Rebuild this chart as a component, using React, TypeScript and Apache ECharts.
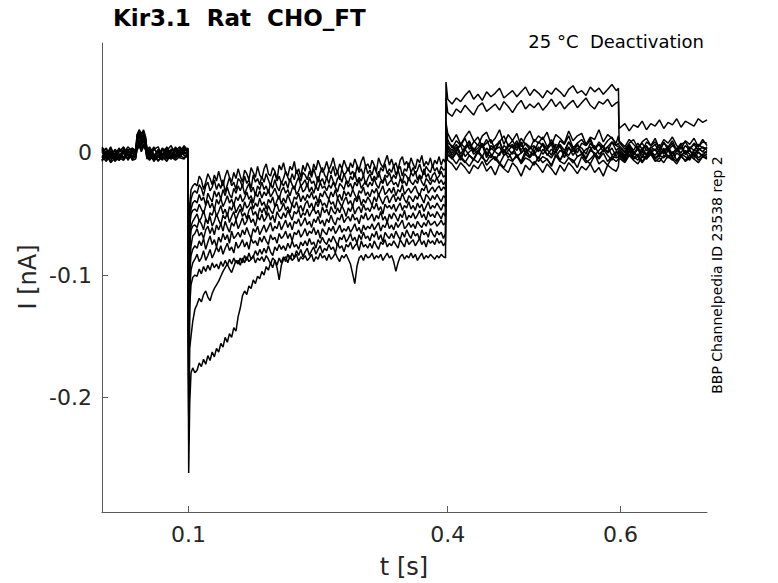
import React, { useEffect, useRef } from "react";
import * as echarts from "echarts";

// Sample times (s) for the four protocol segments
const T1 = [0, 0.005, 0.01, 0.015, 0.02, 0.025, 0.03, 0.035, 0.039, 0.0405, 0.043, 0.0455, 0.048, 0.0505, 0.052,
  0.055, 0.06, 0.065, 0.07, 0.075, 0.08, 0.085, 0.09, 0.095, 0.0995];
const T2 = [0.1003, 0.1015, 0.103, 0.105, 0.1075,
  0.11, 0.1125, 0.115, 0.1175, 0.12, 0.1225, 0.125, 0.1275, 0.13, 0.1325,
  0.135, 0.1375, 0.14, 0.1425, 0.145, 0.1475, 0.15, 0.1525, 0.155, 0.1575,
  0.16, 0.1625, 0.165, 0.1675, 0.17, 0.1725, 0.175, 0.1775, 0.18, 0.1825,
  0.185, 0.1875, 0.19, 0.1925, 0.195, 0.1975, 0.2, 0.2025, 0.205, 0.2075,
  0.21, 0.2125, 0.215, 0.2175, 0.22, 0.2225, 0.225, 0.2275, 0.23, 0.2325,
  0.235, 0.2375, 0.24, 0.2425, 0.245, 0.2475, 0.25, 0.2525, 0.255, 0.2575,
  0.26, 0.2625, 0.265, 0.2675, 0.27, 0.2725, 0.275, 0.2775, 0.28, 0.2825,
  0.285, 0.2875, 0.29, 0.2925, 0.295, 0.2975, 0.3, 0.3025, 0.305, 0.3075,
  0.31, 0.3125, 0.315, 0.3175, 0.32, 0.3225, 0.325, 0.3275, 0.33, 0.3325,
  0.335, 0.3375, 0.34, 0.3425, 0.345, 0.3475, 0.35, 0.3525, 0.355, 0.3575,
  0.36, 0.3625, 0.365, 0.3675, 0.37, 0.3725, 0.375, 0.3775, 0.38, 0.3825,
  0.385, 0.3875, 0.39, 0.3925, 0.395, 0.3975];
const T3 = [0.398, 0.4,
  0.405, 0.41, 0.415, 0.42, 0.425, 0.43, 0.435, 0.44, 0.445, 0.45,
  0.455, 0.46, 0.465, 0.47, 0.475, 0.48, 0.485, 0.49, 0.495, 0.5,
  0.505, 0.51, 0.515, 0.52, 0.525, 0.53, 0.535, 0.54, 0.545, 0.55,
  0.555, 0.56, 0.565, 0.57, 0.575, 0.58, 0.585, 0.59, 0.595,
  0.5975];
const T4 = [0.5983, 0.605, 0.61, 0.615, 0.62, 0.625, 0.63, 0.635, 0.64, 0.645, 0.65,
  0.655, 0.66, 0.665, 0.67, 0.675, 0.68, 0.685, 0.69, 0.695, 0.7];
const SEGMENT_TIMES = [T1, T2, T3, T4];

// Current sweeps in pA, one array per sweep, split by segment
const sweepA = [
  [-6, 2, -5, -1, 4, -4, 1, -3, 2, 14, 19, 16, 18, 12, 1, -5, 3, 5, -4, 2, 6, -2, 4, -1, 1],
  [-140, -42, -30, -27, -25,
    -27, -19, -22, -30, -24, -17, -21, -26, -18, -23,
    -15, -22, -27, -19, -14, -20, -24, -16, -21, -13,
    -19, -24, -14, -17, -22, -12, -16, -20, -11, -18,
    -21, -13, -9, -17, -19, -12, -15, -22, -10, -14,
    -8, -16, -19, -11, -14, -7, -17, -13, -20, -10,
    -15, -8, -12, -18, -9, -14, -6, -11, -16, -13,
    -7, -14, -10, -4, -12, -16, -9, -13, -6, -11,
    -15, -8, -12, -5, -10, -14, -7, -3, -11, -9,
    -13, -6, -10, -15, -4, -9, -12, -7, -2, -10,
    -5, -11, -8, -14, -6, -3, -10, -7, -12, -4,
    -9, -13, -5, -8, -2, -11, -7, -10, -4, -12,
    -6, -9, -3, -10, -5, -8],
  [25, 16,
    9, 15, 7, 13, 18, 10, 6, 14, 17, 8,
    12, 19, 7, 15, 10, 16, 5, 13, 18, 9,
    14, 11, 17, 6, 15, 12, 8, 18, 10, 14,
    16, 7, 13, 11, 19, 9, 15, 12, 8,
    14],
  [9, 3, 8, 11, 4, 1, 9, 6, 12, 3, 8, 5, 10, 2, 7, 9, 3, 8, 5, 11, 6],
];
const sweepB = [
  [3, -6, -1, -7, -3, 2, -5, 4, -2, 12, 16, 11, 15, 9, 3, 1, -6, -2, 4, -3, -5, 5, 0, 6, 2],
  [-160, -52, -38, -33, -31,
    -33, -26, -29, -35, -27, -24, -31, -28, -22, -30,
    -25, -29, -22, -32, -26, -20, -27, -24, -30, -21,
    -23, -28, -19, -25, -22, -29, -18, -24, -21, -26,
    -19, -24, -17, -22, -27, -20, -16, -23, -19, -25,
    -21, -15, -20, -24, -17, -22, -14, -19, -23, -16,
    -18, -22, -15, -20, -13, -19, -24, -16, -12, -18,
    -21, -14, -17, -11, -19, -15, -22, -13, -18, -16,
    -12, -18, -15, -20, -11, -16, -13, -19, -10, -17,
    -14, -18, -11, -16, -20, -12, -15, -9, -17, -13,
    -16, -10, -18, -14, -11, -19, -13, -15, -8, -16,
    -12, -17, -14, -9, -15, -18, -11, -14, -16, -10,
    -15, -12, -17, -11, -14, -13],
  [22, 11,
    4, 10, 6, 12, 3, 9, 13, 5, 8, 11,
    2, 9, 14, 6, 10, 4, 12, 7, 3, 11,
    8, 13, 5, 9, 2, 10, 7, 14, 4, 8,
    11, 6, 12, 3, 9, 5, 10, 13, 6,
    8],
  [6, 1, 7, -1, 5, 8, 2, 4, 7, 0, 9, 2, 6, 3, 8, -1, 5, 2, 7, 4, 3],
];
const sweepC = [
  [-7, -1, -8, -4, -6, 1, -5, -2, -4, 6, 10, 7, 12, 5, -3, -6, -1, -7, 0, -5, 2, -4, -2, 1, -3],
  [-175, -62, -46, -41, -39,
    -41, -34, -39, -36, -43, -33, -37, -40, -31, -36,
    -32, -38, -30, -35, -28, -34, -37, -29, -33, -27,
    -31, -26, -34, -29, -25, -32, -28, -35, -27, -30,
    -24, -30, -27, -33, -25, -29, -22, -28, -31, -24,
    -27, -23, -29, -21, -26, -30, -24, -20, -27, -25,
    -22, -28, -20, -25, -23, -29, -19, -24, -21, -26,
    -20, -25, -18, -23, -27, -21, -19, -24, -17, -22,
    -25, -19, -22, -16, -24, -20, -23, -18, -26, -21,
    -17, -23, -19, -22, -15, -21, -24, -18, -20, -16,
    -22, -18, -21, -14, -20, -24, -17, -19, -23, -16,
    -19, -15, -22, -18, -21, -13, -20, -17, -23, -18,
    -16, -21, -19, -15, -20, -18],
  [15, 6,
    2, 7, -1, 5, 9, 1, 4, 8, -2, 6,
    3, 10, 0, 5, 7, 2, 9, -1, 4, 6,
    1, 8, 3, -2, 7, 5, 0, 9, 2, 6,
    4, -1, 8, 3, 7, 1, 5, 9, 2,
    4],
  [3, -2, 5, 1, -3, 4, 6, 0, 3, -2, 2, 5, -1, 4, 0, 6, 2, -2, 4, 1, 5],
];
const sweepD = [
  [4, -2, 5, -3, 3, 0, 5, 1, 3, 9, 13, 10, 8, 11, 4, -1, 5, -4, 2, 4, -3, 2, 5, 1, 4],
  [-150, -58, -50, -47, -46,
    -48, -42, -46, -50, -43, -39, -45, -41, -47, -38,
    -42, -37, -44, -40, -35, -41, -38, -43, -36, -39,
    -34, -40, -37, -32, -38, -35, -41, -33, -36, -31,
    -37, -32, -35, -30, -36, -33, -29, -34, -38, -31,
    -28, -33, -30, -35, -29, -27, -34, -31, -26, -32,
    -30, -25, -32, -28, -33, -27, -31, -24, -29, -27,
    -31, -26, -29, -24, -28, -32, -25, -27, -30, -23,
    -28, -25, -30, -24, -27, -22, -29, -26, -23, -28,
    -24, -27, -21, -26, -29, -23, -25, -20, -27, -24,
    -22, -26, -24, -28, -21, -25, -23, -27, -20, -24,
    -26, -22, -25, -19, -24, -27, -21, -23, -26, -22,
    -24, -20, -25, -22, -26, -23],
  [12, 4,
    0, 5, -3, 3, 7, -1, 2, 6, -4, 4,
    1, -2, 6, 3, -1, 8, 0, 4, -3, 5,
    2, 7, -2, 3, 0, 6, -4, 4, 1, 8,
    -1, 3, 5, -2, 2, 6, 0, 4, -3,
    2],
  [2, -3, 4, -1, 3, -4, 5, 1, -2, 3, -1, 4, -3, 2, 5, -1, 2, -3, 4, 1, 0],
];
const sweepE = [
  [-3, -7, 0, -6, -1, -5, 3, -6, -5, 4, 8, 3, 7, 2, -4, 0, -7, -2, -6, 2, -5, -1, -4, -5, 0],
  [-190, -78, -60, -56, -53,
    -50, -56, -53, -47, -54, -58, -49, -51, -45, -52,
    -48, -43, -50, -46, -52, -44, -47, -41, -49, -45,
    -42, -48, -40, -45, -43, -38, -46, -41, -44, -37,
    -43, -40, -46, -38, -41, -36, -44, -39, -35, -42,
    -37, -41, -34, -39, -43, -36, -38, -33, -40, -35,
    -39, -34, -37, -32, -38, -35, -41, -33, -36, -31,
    -35, -38, -32, -36, -30, -37, -34, -39, -31, -35,
    -32, -36, -30, -34, -38, -31, -33, -28, -35, -32,
    -36, -30, -33, -29, -35, -31, -27, -34, -32, -29,
    -33, -28, -35, -30, -32, -26, -34, -31, -29, -33,
    -30, -27, -32, -35, -29, -31, -26, -33, -30, -28,
    -32, -29, -27, -31, -28, -30],
  [16, 5,
    -2, 3, 6, -3, 1, 4, -1, 7, 0, -4,
    3, 5, -2, 2, 6, -3, 0, 4, 1, -2,
    5, -1, 3, 7, -3, 2, 0, 5, -2, 4,
    1, -4, 3, 6, -1, 2, 5, -2, 1,
    0],
  [1, -4, 3, -2, 4, -1, -5, 2, 3, -3, 4, -4, 0, 3, -2, 1, -5, 3, 0, -2, 2],
];
const sweepF = [
  [1, 4, -4, 2, -5, 4, -2, 1, 0, 11, 14, 9, 13, 7, 2, 4, -3, 2, -5, 4, 0, -3, 2, 5, 1],
  [-165, -72, -63, -60, -59,
    -61, -55, -58, -63, -54, -57, -52, -60, -56, -50,
    -55, -59, -51, -54, -49, -57, -52, -48, -55, -50,
    -46, -52, -49, -54, -47, -44, -51, -48, -53, -45,
    -49, -45, -51, -43, -47, -50, -44, -42, -48, -46,
    -41, -47, -44, -49, -42, -45, -40, -46, -43, -48,
    -42, -39, -45, -41, -47, -40, -44, -38, -43, -41,
    -45, -38, -42, -40, -46, -37, -41, -44, -39, -36,
    -42, -39, -44, -37, -40, -35, -43, -38, -41, -36,
    -39, -43, -36, -40, -34, -38, -42, -37, -35, -41,
    -37, -34, -40, -36, -39, -33, -38, -41, -35, -37,
    -40, -35, -38, -33, -37, -41, -34, -36, -39, -35,
    -38, -34, -37, -40, -35, -37],
  [10, 2,
    -4, 1, -6, 3, -2, -5, 2, -3, 4, -1,
    -6, 0, 3, -4, 1, -2, -7, 2, -3, 0,
    -5, 3, -1, -4, 2, -6, 1, -2, 4, -3,
    -1, -5, 2, 0, -4, 3, -2, -6, 1,
    -1],
  [0, -5, 2, -3, -6, 1, -2, 3, -4, -1, 2, -3, -6, 0, -3, 2, -1, -5, 1, -3, -1],
];
const sweepG = [
  [-6, -2, -7, 0, -4, -6, -1, -5, -3, 2, 6, 1, 5, 3, -5, -2, -1, -6, -3, -7, -1, -5, 1, -2, -4],
  [-200, -92, -76, -68, -66,
    -62, -68, -65, -70, -63, -60, -66, -61, -67, -59,
    -63, -58, -64, -56, -61, -65, -57, -60, -55, -62,
    -58, -53, -59, -56, -51, -57, -54, -60, -52, -55,
    -50, -56, -53, -49, -55, -51, -57, -48, -52, -54,
    -49, -53, -47, -51, -55, -48, -50, -46, -53, -49,
    -51, -46, -52, -48, -45, -50, -47, -53, -44, -49,
    -46, -51, -44, -48, -50, -45, -49, -43, -47, -52,
    -45, -48, -43, -50, -46, -44, -49, -42, -47, -45,
    -48, -43, -46, -41, -47, -44, -50, -42, -45, -43,
    -46, -42, -48, -44, -41, -47, -43, -45, -40, -46,
    -43, -47, -41, -45, -42, -48, -44, -40, -46, -43,
    -45, -41, -44, -47, -42, -44],
  [8, -1,
    -5, 0, -4, -8, -2, -6, 1, -4, -7, -1,
    -5, -9, -2, 0, -6, -3, -8, -1, -4, 1,
    -7, -3, -5, -10, -2, -6, 0, -4, -8, -3,
    -1, -6, -9, -2, -5, 0, -7, -3, -4,
    -3],
  [-1, -6, 1, -4, -1, -7, -2, 1, -5, -2, -4, 2, -4, -7, -1, -3, -6, 1, -4, -1, -3],
];
const sweepH = [
  [2, -3, 4, -4, 1, 5, -2, 3, 1, 7, 4, 9, 6, 8, 2, 5, -1, -3, 4, -4, 2, 4, -2, 3, 2],
  [-185, -98, -84, -79, -76,
    -78, -72, -76, -70, -79, -73, -68, -75, -71, -77,
    -69, -73, -66, -71, -67, -74, -64, -70, -68, -65,
    -69, -63, -67, -61, -66, -70, -62, -65, -60, -67,
    -63, -59, -65, -61, -57, -64, -60, -62, -56, -63,
    -59, -55, -61, -57, -63, -56, -58, -54, -60, -57,
    -53, -59, -56, -61, -54, -57, -52, -58, -55, -60,
    -54, -57, -51, -56, -59, -53, -55, -50, -57, -54,
    -52, -56, -50, -55, -53, -58, -51, -54, -49, -55,
    -53, -50, -56, -51, -54, -48, -55, -52, -57, -50,
    -54, -49, -52, -56, -50, -53, -47, -55, -51, -53,
    -49, -54, -51, -47, -53, -50, -55, -48, -52, -50,
    -53, -48, -51, -54, -49, -52],
  [20, 8,
    6, 1, 8, 4, 10, 2, 7, 5, 11, 3,
    6, 9, 0, 7, 4, 10, 2, 8, 5, 1,
    9, 6, 3, 11, 4, 7, 2, 9, 5, 0,
    8, 6, 10, 3, 7, 4, 1, 9, 6,
    5],
  [5, 0, 7, 2, 8, 3, -1, 5, 2, 7, 0, 4, 8, 1, 5, -1, 3, 7, 2, 5, 3],
];
const sweepI = [
  [-2, -5, 1, -3, -6, 0, -5, 2, -1, 13, 17, 12, 16, 10, 0, -4, -5, 1, -2, -5, -3, 2, -2, -4, -1],
  [-215, -112, -96, -90, -87,
    -83, -89, -86, -80, -88, -84, -79, -86, -82, -77,
    -81, -76, -83, -78, -74, -80, -77, -82, -73, -78,
    -75, -71, -77, -73, -79, -70, -74, -72, -76, -69,
    -73, -68, -72, -75, -67, -71, -69, -74, -66, -70,
    -68, -64, -70, -66, -72, -65, -67, -63, -69, -66,
    -62, -68, -64, -66, -61, -67, -63, -70, -62, -65,
    -67, -61, -64, -60, -66, -63, -59, -65, -62, -64,
    -60, -65, -62, -58, -64, -61, -66, -59, -63, -60,
    -62, -58, -63, -60, -57, -64, -59, -61, -56, -62,
    -59, -63, -57, -61, -58, -55, -62, -60, -57, -61,
    -58, -62, -56, -59, -61, -57, -60, -55, -59, -58,
    -56, -60, -58, -55, -59, -57],
  [6, -2,
    -4, -9, -3, -7, -11, -5, -8, -2, -10, -6,
    -3, -8, -12, -5, -7, -1, -9, -4, -6, -10,
    -3, -8, -5, -11, -2, -7, -9, -4, -6, -12,
    -3, -8, -5, -1, -9, -6, -10, -4, -7,
    -5],
  [-2, -7, -1, -5, -3, -8, -3, 0, -6, -7, -2, -4, 1, -6, -2, -7, -4, -1, -6, -3, -4],
];
const sweepJ = [
  [5, 0, -3, 3, -1, -4, 2, 4, 2, 5, 9, 4, 7, 3, -1, 1, 3, 0, -2, 5, -2, 3, -1, 2, 3],
  [-235, -160, -150, -138, -128,
    -124, -119, -122, -116, -113, -118, -121, -115, -111, -108,
    -105, -101, -97, -94, -91, -95, -98, -93, -88, -91,
    -86, -90, -84, -88, -82, -87, -85, -80, -84, -79,
    -83, -78, -82, -76, -81, -84, -77, -80, -75, -79,
    -76, -80, -74, -78, -72, -77, -75, -79, -73, -76,
    -72, -76, -70, -75, -73, -78, -71, -74, -69, -73,
    -75, -70, -73, -68, -72, -76, -69, -71, -67, -73,
    -70, -66, -72, -69, -74, -67, -71, -65, -70, -68,
    -72, -66, -69, -64, -71, -67, -73, -65, -68, -70,
    -66, -70, -64, -68, -71, -65, -69, -63, -67, -70,
    -64, -68, -66, -71, -63, -67, -65, -69, -62, -66,
    -69, -64, -67, -65, -70, -66],
  [5, -6,
    -9, -14, -8, -12, -17, -10, -13, -7, -15, -11,
    -18, -9, -13, -16, -8, -12, -19, -10, -14, -7,
    -11, -16, -9, -13, -18, -10, -15, -8, -12, -17,
    -11, -14, -9, -16, -12, -19, -10, -13, -15,
    -11],
  [-4, -8, -2, -6, -9, -3, -5, -1, -7, -4, -8, -2, -5, -9, -3, -6, -2, -5, -8, -3, -5],
];
const sweepK = [
  [-4, 1, -5, -2, -3, 2, -6, 0, -2, 8, 11, 6, 10, 5, -3, -5, -3, -6, -4, 0, -3, -6, -3, 1, -2],
  [-262, -205, -180, -176, -180,
    -178, -172, -175, -169, -173, -166, -170, -163, -167, -160,
    -163, -156, -159, -151, -155, -148, -151, -143, -146, -134,
    -127, -117, -113, -116, -109, -111, -104, -107, -101, -103,
    -97, -100, -93, -96, -90, -94, -88, -92, -86, -90,
    -85, -89, -83, -87, -82, -86, -80, -84, -79, -85,
    -81, -78, -84, -80, -77, -83, -79, -76, -82, -78,
    -80, -75, -79, -77, -82, -74, -78, -76, -81, -75,
    -77, -73, -79, -76, -74, -80, -72, -77, -75, -78,
    -74, -78, -72, -76, -79, -73, -75, -71, -77, -74,
    -76, -72, -75, -78, -71, -74, -77, -70, -75, -73,
    -71, -76, -73, -70, -75, -72, -77, -71, -74, -72,
    -75, -70, -74, -72, -76, -73],
  [45, 33,
    30, 36, 33, 39, 35, 31, 38, 41, 34, 37,
    40, 35, 42, 38, 33, 39, 43, 36, 40, 37,
    41, 35, 39, 44, 38, 42, 36, 40, 43, 37,
    41, 45, 39, 36, 42, 40, 44, 38, 41,
    42],
  [10, 5, 11, 7, 3, 9, 12, 6, 9, 4, 11, 8, 13, 6, 3, 10, 7, 12, 5, 9, 8],
];
const sweepL = [
  [1, -4, 2, -5, -2, 1, 3, -4, 0, 15, 18, 14, 19, 13, 2, 2, -4, 3, -1, -2, 3, 1, -3, 4, 0],
  [-210, -125, -108, -102, -100,
    -101, -95, -99, -93, -97, -92, -96, -90, -94, -91,
    -95, -89, -93, -88, -92, -87, -91, -86, -90, -88,
    -92, -86, -90, -85, -89, -87, -84, -90, -86, -88,
    -85, -89, -84, -87, -91, -86, -88, -94, -104, -92,
    -87, -85, -90, -84, -88, -86, -83, -89, -85, -87,
    -84, -88, -86, -83, -89, -85, -87, -82, -86, -84,
    -88, -83, -87, -85, -82, -86, -89, -84, -86, -83,
    -87, -91, -99, -107, -93, -86, -84, -88, -83, -86,
    -85, -82, -87, -84, -86, -83, -88, -85, -82, -86,
    -84, -89, -97, -90, -85, -83, -87, -84, -86, -82,
    -86, -83, -88, -85, -82, -87, -84, -86, -83, -85,
    -87, -84, -86, -83, -85, -86],
  [58, 44,
    40, 45, 42, 47, 51, 44, 48, 43, 50, 46,
    49, 53, 45, 48, 51, 46, 50, 54, 47, 52,
    49, 45, 51, 48, 53, 50, 46, 52, 55, 49,
    51, 47, 54, 50, 53, 48, 52, 56, 51,
    53],
  [20, 24, 18, 23, 21, 26, 19, 24, 22, 27, 20, 25, 23, 28, 21, 26, 24, 22, 28, 25, 27],
];
const SWEEPS = [sweepA, sweepB, sweepC, sweepD, sweepE, sweepF, sweepG, sweepH, sweepI, sweepJ, sweepK, sweepL];

const X_TICKS = [0.1, 0.4, 0.6];
const Y_TICKS_PA = [-200, -100, 0];

const TITLE = "Kir3.1  Rat  CHO_FT";
const SUBTITLE = "25 \u00B0C  Deactivation";
const SIDE_NOTE = "BBP Channelpedia ID 23538 rep 2";
const X_NAME = "t [s]";
const Y_NAME = "I [nA]";

const FONT = '"DejaVu Sans", Verdana, sans-serif';
const AXIS_COLOR = "#5a5a5a";
const TEXT_COLOR = "#262626";

function buildSeriesData(sweep: number[][]) {
  const pts: number[][] = [];
  sweep.forEach((seg, i) => {
    const times = SEGMENT_TIMES[i];
    const n = Math.min(times.length, seg.length);
    for (let j = 0; j < n; j++) pts.push([times[j], seg[j]]);
  });
  return pts;
}

export default function App() {
  const ref = useRef<HTMLDivElement>(null);
  useEffect(() => {
    if (!ref.current) return;
    const chart = echarts.init(ref.current, null, { renderer: "svg" });
    const option: any = {
      animation: false,
      backgroundColor: "#ffffff",
      grid: { left: 102, top: 43, right: 71, bottom: 71, containLabel: false },
      xAxis: {
        type: "value",
        min: 0,
        max: 0.7,
        axisLine: { show: true, onZero: false, lineStyle: { color: AXIS_COLOR, width: 1 } },
        axisTick: { show: true, inside: true, length: 6, customValues: X_TICKS, lineStyle: { color: AXIS_COLOR } },
        axisLabel: {
          show: true,
          customValues: X_TICKS,
          margin: 11,
          fontFamily: FONT,
          fontSize: 22,
          color: TEXT_COLOR,
          formatter: (v: number) => String(Math.round(v * 10) / 10),
        },
        splitLine: { show: false },
      },
      yAxis: {
        type: "value",
        min: -294,
        max: 90,
        axisLine: { show: true, onZero: false, lineStyle: { color: AXIS_COLOR, width: 1 } },
        axisTick: { show: true, inside: true, length: 6, customValues: Y_TICKS_PA, lineStyle: { color: AXIS_COLOR } },
        axisLabel: {
          show: true,
          customValues: Y_TICKS_PA,
          margin: 10,
          fontFamily: FONT,
          fontSize: 22,
          color: TEXT_COLOR,
          formatter: (v: number) => (v === 0 ? "0" : String(v / 1000)),
        },
        splitLine: { show: false },
      },
      series: SWEEPS.map((sw, i) => ({
        type: "line",
        name: "sweep" + i,
        data: buildSeriesData(sw),
        showSymbol: false,
        symbol: "none",
        silent: true,
        clip: true,
        lineStyle: { color: "#000000", width: 1.5 },
        emphasis: { disabled: true },
      })),
      graphic: [
        {
          type: "text",
          x: 113,
          y: 18,
          style: { text: TITLE, font: "bold 23px " + FONT, fill: "#000", align: "left", verticalAlign: "middle", textAlign: "left", textVerticalAlign: "middle" },
        },
        {
          type: "text",
          x: 704,
          y: 41,
          style: { text: SUBTITLE, font: "18px " + FONT, fill: "#000", align: "right", verticalAlign: "middle", textAlign: "right", textVerticalAlign: "middle" },
        },
        {
          type: "text",
          x: 717,
          y: 275,
          rotation: Math.PI / 2,
          style: { text: SIDE_NOTE, font: "14px " + FONT, fill: "#000", align: "center", verticalAlign: "middle", textAlign: "center", textVerticalAlign: "middle" },
        },
        {
          type: "text",
          x: 404,
          y: 567,
          style: { text: X_NAME, font: "24px " + FONT, fill: TEXT_COLOR, align: "center", verticalAlign: "middle", textAlign: "center", textVerticalAlign: "middle" },
        },
        {
          type: "text",
          x: 28,
          y: 277,
          rotation: Math.PI / 2,
          style: { text: Y_NAME, font: "24px " + FONT, fill: TEXT_COLOR, align: "center", verticalAlign: "middle", textAlign: "center", textVerticalAlign: "middle" },
        },
      ],
    };
    chart.setOption(option);
    return () => chart.dispose();
  }, []);
  return (
    <div
      ref={ref}
      style={{ position: "fixed", left: 0, top: 0, width: 778, height: 583, background: "#fff" }}
    />
  );
}
